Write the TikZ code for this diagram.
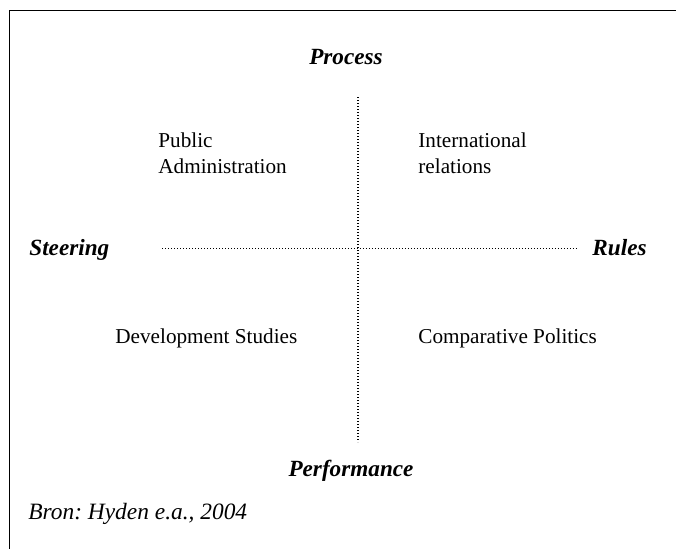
\documentclass[tikz,border=0pt]{standalone}
\usepackage{fontspec}
\setmainfont{Liberation Serif}
\usetikzlibrary{positioning}
\frenchspacing
\tikzset{
  % Assi e testi del quadrante
  axis dot/.style={line width=0.6pt,dash pattern=on 0.6pt off 0.9pt},
  pole/.style={inner sep=0,font=\fontsize{11.6}{14}\selectfont\bfseries\itshape},
  field/.style={inner sep=0,align=left,font=\fontsize{10.6}{13}\selectfont},
  source/.style={inner sep=0,font=\fontsize{11.7}{14}\selectfont\itshape}
}

\begin{document}
\begin{tikzpicture}[x=0.5pt,y=-0.5pt]
        \useasboundingbox (0,0) rectangle (676,548);
        \clip (0,0) rectangle (676,548);
        \draw[line width=0.9pt] (9.5,600) -- (9.5,10.5) -- (700,10.5);
        \coordinate (vtop) at (358,97);
        \coordinate (vbot) at (358,442);
        \coordinate (hleft) at (162,248.5);
        \coordinate (hright) at (577,248.5);
        \draw[axis dot] (vtop) -- (vbot);
        \draw[axis dot,line width=0.5pt] (hleft) -- (hright);
        \node[pole,anchor=base] (process) at (346,64) {Process};
        \node[pole,anchor=base west] (steering) at (29,255) {Steering};
        \node[pole,anchor=base east] (rules) at (647,255) {Rules};
        \node[pole,anchor=base] (performance) at (351,476) {Performance};
        \node[field,anchor=base west] (pubadmin) at (158,173) {Public\\Administration};
        \node[field,anchor=base west] (intrel) at (418,173) {International\\relations};
        \node[field,anchor=base west] (devstud) at (115,343) {Development Studies};
        \node[field,anchor=base west] (comppol) at (418,343) {Comparative Politics};
        \node[source,anchor=base west] (source) at (28,519) {Bron: Hyden e.a., 2004};
      \end{tikzpicture}
\end{document}
